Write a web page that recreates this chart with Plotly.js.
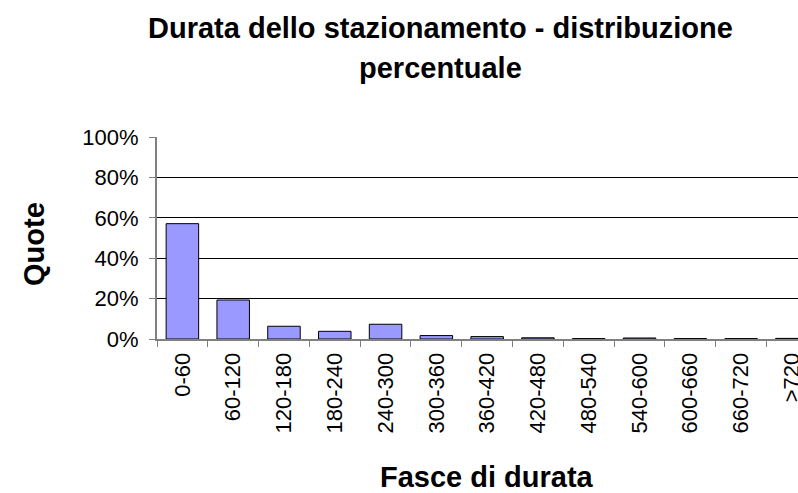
<!DOCTYPE html>
<html>
<head>
<meta charset="utf-8">
<script src="https://cdn.plot.ly/plotly-3.0.1.min.js"></script>
<style>html,body{margin:0;padding:0;background:#fff;}#chart{width:798px;height:493px;}</style>
</head>
<body>
<div id="chart"></div>
<script>
const categories = ["0-60","60-120","120-180","180-240","240-300","300-360","360-420","420-480","480-540","540-600","600-660","660-720",">720"];
const shares = [0.571, 0.193, 0.063, 0.038, 0.073, 0.017, 0.012, 0.006, 0.002, 0.005, 0.002, 0.002, 0.003];
const titleLine1 = "Durata dello stazionamento - distribuzione";
const titleLine2 = "percentuale";
const yTitle = "Quote";
const xTitle = "Fasce di durata";

const font = "Liberation Sans, Arial, sans-serif";
const trace = {
  type: "bar",
  x: categories,
  y: shares,
  marker: {color: "#9999FF", line: {color: "#000000", width: 1}},
  hoverinfo: "x+y"
};
const layout = {
  width: 798, height: 493,
  margin: {l: 157, r: 0, t: 137, b: 154},
  paper_bgcolor: "#ffffff", plot_bgcolor: "#ffffff",
  showlegend: false,
  bargap: 0.36,
  font: {family: font, color: "#000"},
  xaxis: {
    type: "category",
    range: [-0.5, 12.12],
    tickson: "boundaries",
    ticks: "outside", ticklen: 6, tickcolor: "#808080", tickwidth: 1,
    showline: true, linecolor: "#808080", linewidth: 2,
    showgrid: false, zeroline: false,
    tickangle: -90,
    ticklabelstandoff: 3,
    tickfont: {family: font, size: 22, color: "#000"}
  },
  yaxis: {
    range: [0, 1],
    tickvals: [0, 0.2, 0.4, 0.6, 0.8, 1.0],
    tickformat: ".0%",
    ticks: "outside", ticklen: 6, tickcolor: "#808080", tickwidth: 1,
    showline: true, linecolor: "#808080", linewidth: 2,
    showgrid: true, gridcolor: "#000000", gridwidth: 1,
    zeroline: false,
    ticklabelstandoff: 6,
    tickfont: {family: font, size: 22, color: "#000"}
  },
  annotations: [
    {text: "<b>" + titleLine1 + "</b>", xref: "paper", yref: "paper", x: (440 - 157) / 641, y: (339 - 28) / 202,
     xanchor: "center", yanchor: "middle", showarrow: false, font: {family: font, size: 29, color: "#000"}},
    {text: "<b>" + titleLine2 + "</b>", xref: "paper", yref: "paper", x: (440 - 157) / 641, y: (339 - 68) / 202,
     xanchor: "center", yanchor: "middle", showarrow: false, font: {family: font, size: 29, color: "#000"}},
    {text: "<b>" + yTitle + "</b>", xref: "paper", yref: "paper", x: (34 - 157) / 641, y: (339 - 244) / 202,
     xanchor: "center", yanchor: "middle", textangle: -90, showarrow: false, font: {family: font, size: 29, color: "#000"}},
    {text: "<b>" + xTitle + "</b>", xref: "paper", yref: "paper", x: (487 - 157) / 641, y: (339 - 477) / 202,
     xanchor: "center", yanchor: "middle", showarrow: false, font: {family: font, size: 29, color: "#000"}}
  ]
};
Plotly.newPlot("chart", [trace], layout, {displayModeBar: false, staticPlot: true});
</script>
</body>
</html>
